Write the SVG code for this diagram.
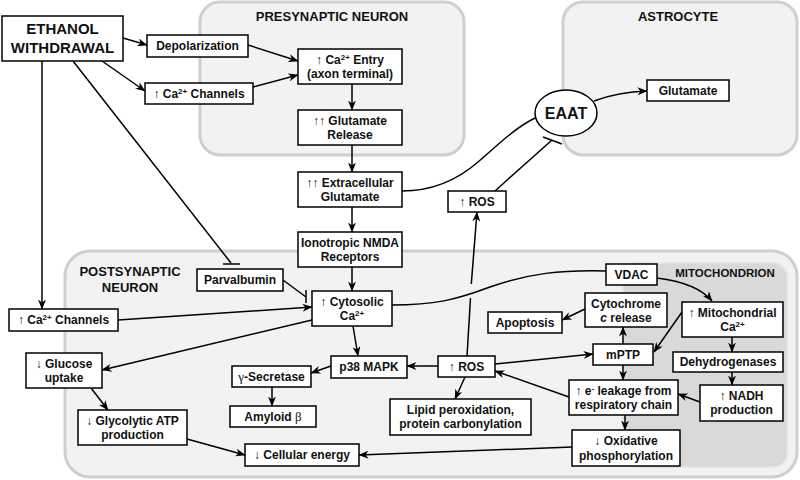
<svg xmlns="http://www.w3.org/2000/svg" width="800" height="480" viewBox="0 0 800 480">
<defs>
<style>
.region{fill:#f2f2f2;stroke:#cfcfcf;stroke-width:3}
.mito{fill:#d9d9d9;stroke:#e4e4e4;stroke-width:2}
.box{fill:#fff;stroke:#000;stroke-width:1.5}
.t{font-family:"Liberation Sans",Arial,sans-serif;font-weight:bold;font-size:12px;text-anchor:middle;fill:#111}
.title{font-family:"Liberation Sans",Arial,sans-serif;font-weight:bold;font-size:13px;text-anchor:middle;fill:#111}
.big{font-size:15px}
.n{font-weight:normal}
.g{font-weight:normal;font-family:"Liberation Serif","Times New Roman",serif;font-size:13px}
.sup{font-size:8px}
.c path,.c line{fill:none;stroke:#000;stroke-width:1.5}
</style>
<marker id="arr" viewBox="0 0 10 8" refX="9.5" refY="4" markerWidth="10" markerHeight="8" markerUnits="userSpaceOnUse" orient="auto">
<path d="M0,0 L10,4 L0,8 L3,4 z" fill="#000"/>
</marker>
</defs>
<rect width="800" height="480" fill="#fff"/>
<g id="regions">
<rect class="region" x="200" y="2" width="264" height="153" rx="20"/>
<rect class="region" x="563" y="2" width="234" height="153" rx="20"/>
<rect class="region" x="65" y="251" width="732" height="226" rx="25"/>
<rect class="mito" x="623" y="263" width="164" height="204" rx="14"/>
<text class="title" x="332" y="21">PRESYNAPTIC NEURON</text>
<text class="title" x="678" y="21">ASTROCYTE</text>
<text class="title" x="130" y="276">POSTSYNAPTIC</text>
<text class="title" x="130" y="292">NEURON</text>
<text class="title" x="725" y="277" style="font-size:11.5px">MITOCHONDRION</text>
</g>
<g id="connectors" class="c">
<path d="M123,38 L147,45" marker-end="url(#arr)"/>
<path d="M102,61 L145,91" marker-end="url(#arr)"/>
<path d="M248,45 L298,61" marker-end="url(#arr)"/>
<path d="M253,87 L298,75" marker-end="url(#arr)"/>
<path d="M352,84 V110" marker-end="url(#arr)"/>
<path d="M352,145 V172" marker-end="url(#arr)"/>
<path d="M352,207 V232" marker-end="url(#arr)"/>
<path d="M352,267 V291" marker-end="url(#arr)"/>
<path d="M42,61 V309" marker-end="url(#arr)"/>
<path d="M73,61 L231,263"/>
<path d="M223,264 H240"/>
<path d="M283,280 L306,297"/>
<path d="M306,290 V303"/>
<path d="M118,320 L312,307" marker-end="url(#arr)"/>
<path d="M312,320 L102,370" marker-end="url(#arr)"/>
<path d="M353,326 L358,356" marker-end="url(#arr)"/>
<path d="M91,388 L108,410" marker-end="url(#arr)"/>
<path d="M187,439 L245,455" marker-end="url(#arr)"/>
<path d="M572,447 L359,455" marker-end="url(#arr)"/>
<path d="M331,366 L311,373" marker-end="url(#arr)"/>
<path d="M272,387 V406" marker-end="url(#arr)"/>
<path d="M438,366 L407,366" marker-end="url(#arr)"/>
<path d="M495,364 L593,354" marker-end="url(#arr)"/>
<path d="M623,344 V327" marker-end="url(#arr)"/>
<path d="M623,365 V380" marker-end="url(#arr)"/>
<path d="M585,309 L562,320" marker-end="url(#arr)"/>
<path d="M682,312 L654,352" marker-end="url(#arr)"/>
<path d="M732,337 V352" marker-end="url(#arr)"/>
<path d="M732,372 V385" marker-end="url(#arr)"/>
<path d="M700,402 L678,394" marker-end="url(#arr)"/>
<path d="M569,397 L495,371" marker-end="url(#arr)"/>
<path d="M625,415 V430" marker-end="url(#arr)"/>
<path d="M465,377 L455,399" marker-end="url(#arr)"/>
<path d="M467,356 L470.5,298"/>
<path d="M471.3,284 L477,212" marker-end="url(#arr)"/>
<path d="M495,191 L552,140"/>
<path d="M543,137 L562,144"/>
<path d="M402,191 C430,191 455,182 478,162 C500,143 515,128 535,118"/>
<path d="M594,101 Q618,92 647,91" marker-end="url(#arr)"/>
<path d="M392,305 C435,305 455,300 490,287 C530,273 560,270 606,271"/>
<path d="M657,278 Q697,283 712,301" marker-end="url(#arr)"/>
</g>
<g id="ethanol"><rect class="box" x="2" y="16" width="121" height="45"/><text class="t big" x="62.5" y="34">ETHANOL</text><text class="t big" x="62.5" y="53">WITHDRAWAL</text></g>
<g id="depol"><rect class="box" x="147" y="35" width="101" height="22"/><text class="t" x="197.5" y="50">Depolarization</text></g>
<g id="cach1"><rect class="box" x="145" y="83" width="108" height="21"/><text class="t" x="199" y="98"><tspan class="n">↑</tspan> Ca<tspan class="sup" dy="-4">2+</tspan><tspan dy="4"> Channels</tspan></text></g>
<g id="caentry"><rect class="box" x="298" y="49" width="104" height="35"/><text class="t" x="350" y="64"><tspan class="n">↑</tspan> Ca<tspan class="sup" dy="-4">2+</tspan><tspan dy="4"> Entry</tspan></text><text class="t" x="350" y="78">(axon terminal)</text></g>
<g id="glurel"><rect class="box" x="298" y="110" width="104" height="35"/><text class="t" x="350" y="125"><tspan class="n">↑↑</tspan> Glutamate</text><text class="t" x="350" y="139">Release</text></g>
<g id="extra"><rect class="box" x="298" y="172" width="104" height="35"/><text class="t" x="350" y="187"><tspan class="n">↑↑</tspan> Extracellular</text><text class="t" x="350" y="201">Glutamate</text></g>
<g id="nmda"><rect class="box" x="298" y="232" width="104" height="35"/><text class="t" x="350" y="247">Ionotropic NMDA</text><text class="t" x="350" y="261">Receptors</text></g>
<g id="eaat"><ellipse class="box" cx="566" cy="113" rx="31" ry="23"/><text class="t" x="566" y="119" style="font-size:16px">EAAT</text></g>
<g id="gluastro"><rect class="box" x="647" y="80" width="82" height="21"/><text class="t" x="688" y="95">Glutamate</text></g>
<g id="ros1"><rect class="box" x="448" y="191" width="58" height="21"/><text class="t" x="477" y="206"><tspan class="n">↑</tspan> ROS</text></g>
<g id="parv"><rect class="box" x="197" y="269" width="86" height="22"/><text class="t" x="240" y="284">Parvalbumin</text></g>
<g id="cach2"><rect class="box" x="9" y="309" width="109" height="22"/><text class="t" x="63.5" y="324"><tspan class="n">↑</tspan> Ca<tspan class="sup" dy="-4">2+</tspan><tspan dy="4"> Channels</tspan></text></g>
<g id="cyto"><rect class="box" x="312" y="291" width="80" height="35"/><text class="t" x="352" y="306"><tspan class="n">↑</tspan> Cytosolic</text><text class="t" x="352" y="320">Ca<tspan class="sup" dy="-4">2+</tspan></text></g>
<g id="glucose"><rect class="box" x="26" y="353" width="76" height="35"/><text class="t" x="64" y="368"><tspan class="n">↓</tspan> Glucose</text><text class="t" x="64" y="382">uptake</text></g>
<g id="glyco"><rect class="box" x="78" y="410" width="109" height="35"/><text class="t" x="132.5" y="425"><tspan class="n">↓</tspan> Glycolytic ATP</text><text class="t" x="132.5" y="439">production</text></g>
<g id="energy"><rect class="box" x="245" y="444" width="114" height="22"/><text class="t" x="302" y="459"><tspan class="n">↓</tspan> Cellular energy</text></g>
<g id="gsec"><rect class="box" x="232" y="366" width="79" height="21"/><text class="t" x="271.5" y="381"><tspan class="g">γ</tspan>-Secretase</text></g>
<g id="amyloid"><rect class="box" x="230" y="406" width="86" height="21"/><text class="t" x="273" y="421">Amyloid <tspan class="g">β</tspan></text></g>
<g id="p38"><rect class="box" x="331" y="356" width="76" height="22"/><text class="t" x="369" y="371">p38 MAPK</text></g>
<g id="ros2"><rect class="box" x="438" y="356" width="57" height="21"/><text class="t" x="466.5" y="371"><tspan class="n">↑</tspan> ROS</text></g>
<g id="lipid"><rect class="box" x="390" y="399" width="141" height="36"/><text class="t" x="460.5" y="414">Lipid peroxidation,</text><text class="t" x="460.5" y="428">protein carbonylation</text></g>
<g id="vdac"><rect class="box" x="606" y="264" width="51" height="21"/><text class="t" x="631.5" y="279">VDAC</text></g>
<g id="cytc"><rect class="box" x="585" y="293" width="82" height="34"/><text class="t" x="626" y="308">Cytochrome</text><text class="t" x="626" y="322"><tspan font-style="italic">c</tspan> release</text></g>
<g id="apoptosis"><rect class="box" x="488" y="312" width="74" height="21"/><text class="t" x="525" y="327">Apoptosis</text></g>
<g id="mitoca"><rect class="box" x="682" y="302" width="101" height="35"/><text class="t" x="732.5" y="317"><tspan class="n">↑</tspan> Mitochondrial</text><text class="t" x="732.5" y="331">Ca<tspan class="sup" dy="-4">2+</tspan></text></g>
<g id="mptp"><rect class="box" x="593" y="344" width="60" height="21"/><text class="t" x="623" y="359">mPTP</text></g>
<g id="dehydro"><rect class="box" x="673" y="352" width="110" height="20"/><text class="t" x="728" y="366">Dehydrogenases</text></g>
<g id="nadh"><rect class="box" x="700" y="385" width="83" height="36"/><text class="t" x="741.5" y="400"><tspan class="n">↑</tspan> NADH</text><text class="t" x="741.5" y="414">production</text></g>
<g id="eleak"><rect class="box" x="569" y="380" width="109" height="35"/><text class="t" x="623.5" y="395"><tspan class="n">↑</tspan> e<tspan class="sup" dy="-4">-</tspan><tspan dy="4"> leakage from</tspan></text><text class="t" x="623.5" y="409">respiratory chain</text></g>
<g id="oxphos"><rect class="box" x="572" y="430" width="108" height="36"/><text class="t" x="626" y="445"><tspan class="n">↓</tspan> Oxidative</text><text class="t" x="626" y="460">phosphorylation</text></g>
</svg>
